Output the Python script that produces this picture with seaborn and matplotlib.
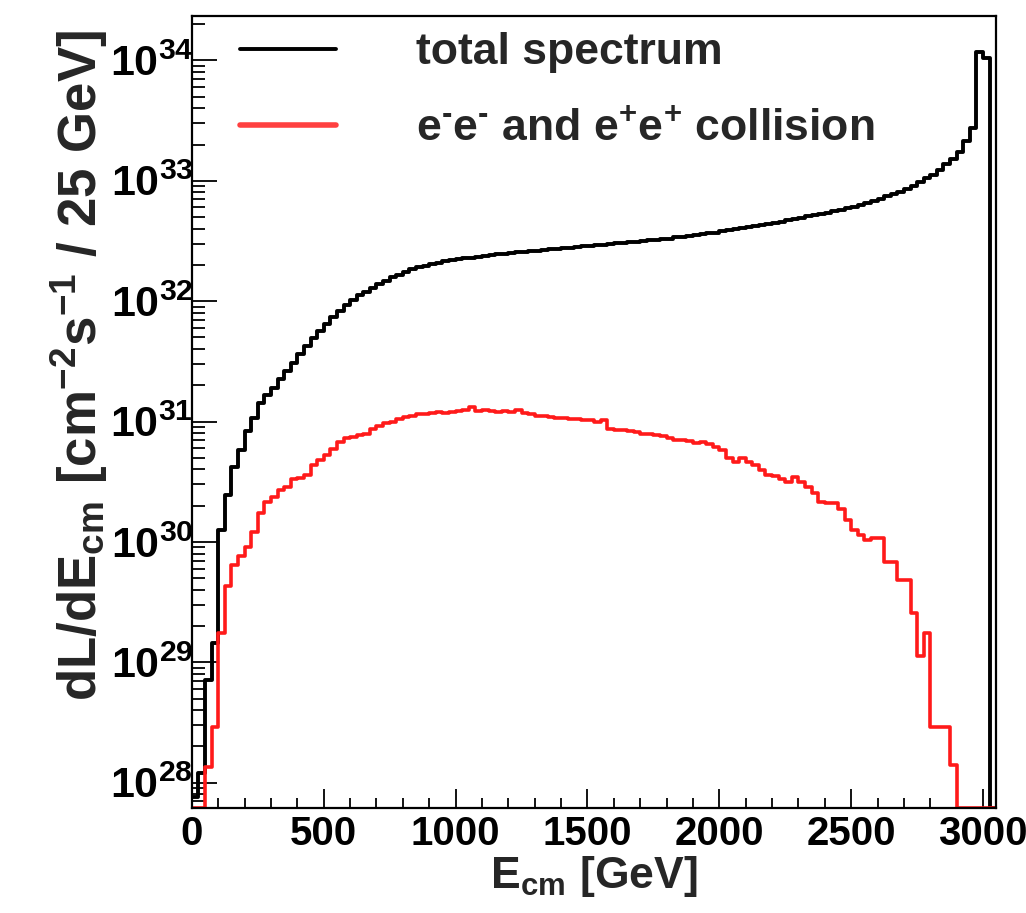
import numpy as np
import pandas as pd
import matplotlib
matplotlib.use("Agg")
import matplotlib.pyplot as plt
from matplotlib.lines import Line2D
from matplotlib.ticker import FixedLocator, LogLocator, MultipleLocator, NullFormatter
import seaborn as sns

# Luminosity spectrum, 25 GeV bins from 0 to 3050 GeV (log10 of the bin content, None = empty bin)
bin_width = 25
e_max = 3050

total_log10 = [
    27.88, 28.08, 28.85, 29.16, 30.10, 30.39, 30.62, 30.76, 30.92, 31.03,
    31.15, 31.22, 31.28, 31.35, 31.42, 31.49, 31.56, 31.63, 31.69, 31.75,
    31.81, 31.87, 31.92, 31.97, 32.01, 32.05, 32.08, 32.11, 32.14, 32.17,
    32.20, 32.22, 32.245, 32.265, 32.28, 32.295, 32.31, 32.32, 32.33, 32.34,
    32.35, 32.355, 32.36, 32.37, 32.375, 32.38, 32.39, 32.395, 32.40, 32.405,
    32.41, 32.415, 32.42, 32.425, 32.43, 32.435, 32.44, 32.445, 32.45, 32.455,
    32.46, 32.465, 32.47, 32.475, 32.48, 32.485, 32.49, 32.495, 32.50, 32.505,
    32.51, 32.515, 32.52, 32.53, 32.535, 32.54, 32.55, 32.555, 32.565, 32.57,
    32.58, 32.59, 32.60, 32.61, 32.62, 32.625, 32.635, 32.64, 32.65, 32.66,
    32.67, 32.68, 32.69, 32.705, 32.715, 32.725, 32.735, 32.745, 32.755, 32.77,
    32.785, 32.80, 32.815, 32.835, 32.85, 32.87, 32.89, 32.91, 32.935, 32.96,
    32.99, 33.02, 33.05, 33.09, 33.14, 33.18, 33.24, 33.33, 33.44, 34.07,
    34.02, None,
]

same_sign_log10 = [
    None, None, 28.13, 28.46, 29.24, 29.63, 29.81, 29.88, 29.96, 30.08,
    30.24, 30.33, 30.37, 30.43, 30.46, 30.52, 30.53, 30.56, 30.64, 30.68,
    30.72, 30.77, 30.83, 30.86, 30.87, 30.89, 30.90, 30.94, 30.96, 30.99,
    31.00, 31.02, 31.04, 31.05, 31.06, 31.06, 31.07, 31.08, 31.07, 31.08,
    31.09, 31.10, 31.12, 31.09, 31.10, 31.09, 31.08, 31.09, 31.08, 31.10,
    31.07, 31.06, 31.05, 31.05, 31.04, 31.03, 31.03, 31.02, 31.02, 31.01,
    31.01, 31.00, 31.01, 30.94, 30.93, 30.93, 30.92, 30.91, 30.90, 30.90,
    30.89, 30.88, 30.86, 30.85, 30.85, 30.84, 30.82, 30.83, 30.81, 30.79,
    30.76, 30.70, 30.66, 30.70, 30.66, 30.64, 30.60, 30.56, 30.55, 30.52,
    30.50, 30.54, 30.50, 30.46, 30.41, 30.33, 30.32, 30.32, 30.27, 30.18,
    30.10, 30.06, 30.02, 30.03, 30.03, 29.83, 29.83, 29.68, 29.68, 29.41,
    29.05, 29.24, 28.46, 28.46, 28.46, 28.15, None, None, None, None,
    None, None,
]

legend_labels = ["total spectrum",
                 r"e$^{\text{-}}$e$^{\text{-}}$ and e$^{\text{+}}$e$^{\text{+}}$ collision"]
decades = [28, 29, 30, 31, 32, 33, 34]
y_min, y_max = 10 ** 27.79, 10 ** 34.365

sns.set_theme(style="ticks")
plt.rcParams["font.family"] = ["Liberation Sans", "DejaVu Sans"]
plt.rcParams["font.weight"] = "bold"
plt.rcParams["mathtext.fontset"] = "custom"
plt.rcParams["mathtext.rm"] = "Liberation Sans:bold"
plt.rcParams["mathtext.it"] = "Liberation Sans:bold"
plt.rcParams["mathtext.bf"] = "Liberation Sans:bold"


def to_values(logs):
    # empty bins are drawn on the lower frame, like ROOT does
    return np.array([y_min if v is None else 10 ** v for v in logs])


n_bins = len(total_log10)
df = pd.DataFrame({
    "E": np.arange(n_bins) * bin_width + bin_width / 2,
    "total": to_values(total_log10),
    "same_sign": to_values(same_sign_log10),
})

fig = plt.figure(figsize=(10.26, 9.13), dpi=100)
ax = fig.add_axes([0.187, 0.115, 0.784, 0.867])

sns.histplot(data=df, x="E", weights="total", bins=n_bins, binrange=(0, e_max),
             element="step", fill=False, color="black", linewidth=2.8, ax=ax)
sns.histplot(data=df, x="E", weights="same_sign", bins=n_bins, binrange=(0, e_max),
             element="step", fill=False, color="#ff1a1a", linewidth=2.6, ax=ax)

ax.set_yscale("log")
ax.set_xlim(0, e_max)
ax.set_ylim(y_min, y_max)

# ROOT-like ticks
ax.xaxis.set_major_locator(MultipleLocator(500))
ax.xaxis.set_minor_locator(MultipleLocator(100))
ax.yaxis.set_major_locator(FixedLocator([10.0 ** d for d in decades]))
ax.set_yticklabels([r"$\mathbf{10^{%d}}$" % d for d in decades])
ax.yaxis.set_minor_locator(LogLocator(base=10, subs=np.arange(2, 10), numticks=200))
ax.yaxis.set_minor_formatter(NullFormatter())
ax.tick_params(axis="both", which="both", direction="in", width=1.3, colors="black")
ax.tick_params(axis="y", which="major", length=18, labelsize=31, pad=-1)
ax.tick_params(axis="y", which="minor", length=9)
ax.tick_params(axis="x", which="major", length=14, labelsize=29, pad=5)
ax.tick_params(axis="x", which="minor", length=7)
for sp in ax.spines.values():
    sp.set_linewidth(1.6)
    sp.set_color("black")

ax.set_xlabel(r"$\mathbf{E_{cm}\ [GeV]}$", fontsize=32)
ax.set_ylabel(r"$\mathbf{dL/dE_{cm}\ [cm^{-2}s^{-1}\ /\ 25\ GeV]}$", fontsize=38)
ax.xaxis.set_label_coords(0.5, -0.058)
ax.yaxis.set_label_coords(-0.102, 0.559)

handles = [Line2D([], [], color="black", linewidth=2.8),
           Line2D([], [], color="#ff4040", linewidth=4)]
ax.legend(handles, legend_labels, loc="upper left", bbox_to_anchor=(0.06, 0.98),
          frameon=False, fontsize=32, handlelength=2.16, handletextpad=1.8,
          labelspacing=0.8, borderpad=0, borderaxespad=0)

fig.savefig("out.png", dpi=100)
plt.close(fig)
